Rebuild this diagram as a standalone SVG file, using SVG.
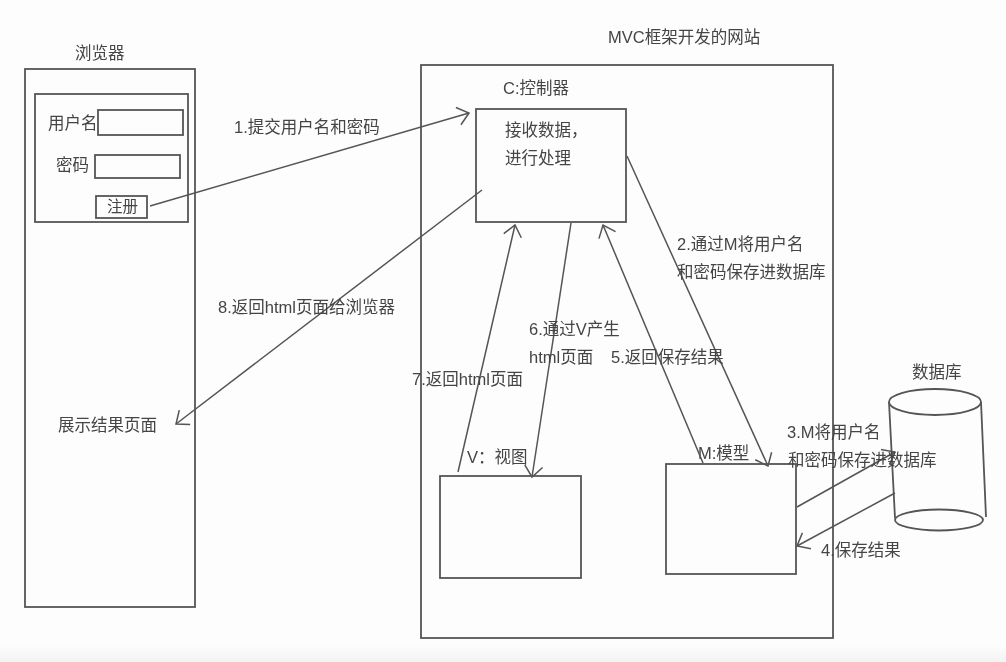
<svg xmlns="http://www.w3.org/2000/svg" width="1006" height="662" viewBox="0 0 1006 662">
<style>
.b{fill:none;stroke:#555;stroke-width:1.8}
.c{fill:none;stroke:#555;stroke-width:1.5}
text{font-family:"Liberation Sans","Noto Sans CJK SC",sans-serif;font-size:16.5px;fill:#444}
</style>
<defs>
<marker id="a" markerWidth="24" markerHeight="24" refX="14" refY="12" orient="auto" markerUnits="userSpaceOnUse"><path d="M3 3L14 12L3 21" fill="none" stroke="#555" stroke-width="1.5"/></marker>
<filter id="soft" filterUnits="userSpaceOnUse" x="0" y="0" width="1006" height="662"><feGaussianBlur stdDeviation="0.5"/></filter>
<linearGradient id="fade" x1="0" y1="0" x2="0" y2="1"><stop offset="0" stop-color="#fdfdfd"/><stop offset="1" stop-color="#f3f3f3"/></linearGradient>
</defs>
<rect width="1006" height="662" fill="#fdfdfd"/>
<rect y="645" width="1006" height="17" fill="url(#fade)"/>
<g filter="url(#soft)">
<g id="browser"><rect class="b" x="25" y="69" width="170" height="538"/><text x="75" y="59">浏览器</text><text x="58" y="431">展示结果页面</text></g>
<g id="form"><rect class="b" x="35" y="94" width="153" height="128"/><text x="48" y="129">用户名</text><rect class="b" x="98" y="110" width="85" height="25"/><text x="56" y="171">密码</text><rect class="b" x="95" y="155" width="85" height="23"/><rect class="b" x="96" y="196" width="51" height="22"/><text x="107" y="212" style="font-size:15.5px">注册</text></g>
<g id="site"><rect class="b" x="421" y="65" width="412" height="573"/><text x="608" y="43">MVC框架开发的网站</text></g>
<g id="controller"><rect class="b" x="476" y="109" width="150" height="113"/><text x="503" y="94">C:控制器</text><text x="505" y="136">接收数据，</text><text x="505" y="164">进行处理</text></g>
<g id="view"><rect class="b" x="440" y="476" width="141" height="102"/><text x="467" y="463">V：视图</text></g>
<g id="model"><rect class="b" x="666" y="464" width="130" height="110"/><text x="698" y="459">M:模型</text></g>
<g id="database"><path class="b" d="M889 402L895 518M981 402L986 517"/><ellipse class="b" cx="935" cy="402" rx="46" ry="13"/><ellipse class="b" cx="939" cy="520" rx="44" ry="10.5"/><text x="912" y="378">数据库</text></g>
<g id="connectors">
<path class="c" marker-end="url(#a)" d="M150 206L469 113"/>
<path class="c" marker-end="url(#a)" d="M627 156L768 466"/>
<path class="c" marker-end="url(#a)" d="M797 507L895 452"/>
<path class="c" marker-end="url(#a)" d="M895 493L797 546"/>
<path class="c" marker-end="url(#a)" d="M703 463L603 225"/>
<path class="c" marker-end="url(#a)" d="M571 223L532 477"/>
<path class="c" marker-end="url(#a)" d="M458 472L515 225"/>
<path class="c" marker-end="url(#a)" d="M482 190L176 424"/>
</g>
<g id="labels">
<text x="234" y="133">1.提交用户名和密码</text>
<text x="677" y="250">2.通过M将用户名</text><text x="677" y="278">和密码保存进数据库</text>
<text x="787" y="438">3.M将用户名</text><text x="788" y="466">和密码保存进数据库</text>
<text x="821" y="556">4.保存结果</text>
<text x="611" y="363">5.返回保存结果</text>
<text x="529" y="335">6.通过V产生</text><text x="529" y="363">html页面</text>
<text x="412" y="385">7.返回html页面</text>
<text x="218" y="313">8.返回html页面给浏览器</text>
</g>
</g>
</svg>
